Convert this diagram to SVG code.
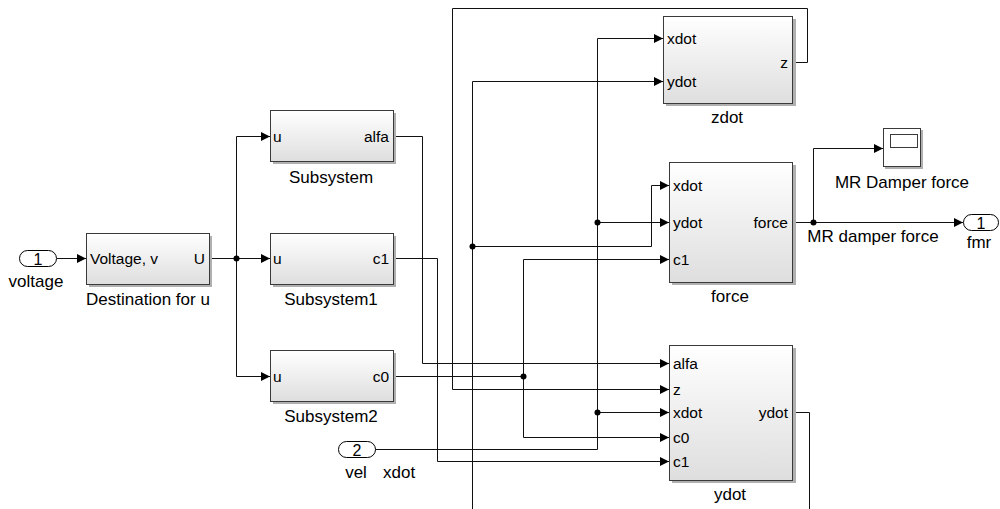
<svg xmlns="http://www.w3.org/2000/svg" width="1000" height="509" viewBox="0 0 1000 509">
<defs>
<linearGradient id="bg" x1="0" y1="0" x2="0" y2="1">
<stop offset="0" stop-color="#ffffff"/>
<stop offset="1" stop-color="#dedede"/>
</linearGradient>
<marker id="arr" markerUnits="userSpaceOnUse" markerWidth="9" markerHeight="9" refX="9" refY="4.5" orient="auto">
<path d="M0,0 L9,4.5 L0,9 z" fill="#000"/>
</marker>
<style>
.blk{fill:url(#bg);stroke:#3a3a3a;stroke-width:1}
.shd{fill:#b0b0b0;stroke:none}
.port{fill:#fff;stroke:#000;stroke-width:1}
.w{fill:none;stroke:#111;stroke-width:1}
.a{marker-end:url(#arr)}
.dot{fill:#000}
.pl{font-family:"Liberation Sans",Arial,sans-serif;font-size:15.5px;fill:#000}
.nm{font-family:"Liberation Sans",Arial,sans-serif;font-size:17px;fill:#000}
.num{font-family:"Liberation Sans",Arial,sans-serif;font-size:16px;fill:#000}
.r{text-anchor:end}
.m{text-anchor:middle}
</style>
</defs>
<rect width="1000" height="509" fill="#fff"/>

<g id="connectors">
<path class="w a" d="M57,258.5 H86"/>
<path class="w a" d="M209,258.5 H270"/>
<path class="w a" d="M236.5,258.5 V136.5 H270"/>
<path class="w a" d="M236.5,258.5 V376.5 H270"/>
<path class="w a" d="M394,136.5 H422.5 V363.5 H669"/>
<path class="w a" d="M394,258.5 H437.5 V461.5 H669"/>
<path class="w a" d="M394,376.5 H523.5 V259.5 H669"/>
<path class="w a" d="M523.5,376.5 V437.5 H669"/>
<path class="w a" d="M375,449.5 H597.5 V38.5 H663"/>
<path class="w a" d="M597.5,222.5 H669"/>
<path class="w a" d="M597.5,412.5 H669"/>
<path class="w" d="M793,412.5 H809.5 V509"/>
<path class="w a" d="M472.5,509 V81.5 H663"/>
<path class="w a" d="M472.5,246.5 H651.5 V185.5 H669"/>
<path class="w a" d="M793,62.5 H807.5 V8.5 H452.5 V389.5 H669"/>
<path class="w a" d="M793,222.5 H963"/>
<path class="w a" d="M813.5,222.5 V148.5 H883"/>
<circle class="dot" cx="236.5" cy="258.5" r="3"/>
<circle class="dot" cx="523.5" cy="376.5" r="3"/>
<circle class="dot" cx="597.5" cy="222.5" r="3"/>
<circle class="dot" cx="597.5" cy="412.5" r="3"/>
<circle class="dot" cx="472.5" cy="246.5" r="3"/>
<circle class="dot" cx="813.5" cy="222.5" r="3"/>
<text class="nm m" x="873" y="242">MR damper force</text>
<text class="nm" x="383" y="478">xdot</text>
</g>

<g id="in1">
<rect class="port" x="19.5" y="250.5" width="37" height="16" rx="8"/>
<text class="num m" x="38" y="264.5">1</text>
<text class="nm m" x="36" y="287">voltage</text>
</g>

<g id="dest">
<rect class="shd" x="89" y="236" width="123" height="51"/>
<rect class="blk" x="86.5" y="233.5" width="123" height="51"/>
<text class="pl" x="90" y="263.5">Voltage, v</text>
<text class="pl r" x="205" y="263.5">U</text>
<text class="nm m" x="148" y="305">Destination for u</text>
</g>

<g id="sub">
<rect class="shd" x="273" y="113" width="123" height="51"/>
<rect class="blk" x="270.5" y="110.5" width="123" height="51"/>
<text class="pl" x="273" y="141.5">u</text>
<text class="pl r" x="389" y="141.5">alfa</text>
<text class="nm m" x="331" y="183">Subsystem</text>
</g>

<g id="sub1">
<rect class="shd" x="273" y="236" width="123" height="51"/>
<rect class="blk" x="270.5" y="233.5" width="123" height="51"/>
<text class="pl" x="273" y="264">u</text>
<text class="pl r" x="389" y="264">c1</text>
<text class="nm m" x="331" y="305">Subsystem1</text>
</g>

<g id="sub2">
<rect class="shd" x="273" y="353" width="123" height="51"/>
<rect class="blk" x="270.5" y="350.5" width="123" height="51"/>
<text class="pl" x="273" y="382">u</text>
<text class="pl r" x="389" y="382">c0</text>
<text class="nm m" x="331" y="422">Subsystem2</text>
</g>

<g id="in2">
<rect class="port" x="338.5" y="441.5" width="37" height="16" rx="8"/>
<text class="num m" x="357" y="455.5">2</text>
<text class="nm m" x="356" y="478">vel</text>
</g>

<g id="zdot">
<rect class="shd" x="666" y="19" width="130" height="87"/>
<rect class="blk" x="663.5" y="16.5" width="129" height="87"/>
<text class="pl" x="667" y="43.5">xdot</text>
<text class="pl" x="667" y="86.5">ydot</text>
<text class="pl r" x="788" y="67.5">z</text>
<text class="nm m" x="727" y="123">zdot</text>
</g>

<g id="force">
<rect class="shd" x="672" y="165" width="124" height="120"/>
<rect class="blk" x="669.5" y="162.5" width="123" height="120"/>
<text class="pl" x="673" y="190.5">xdot</text>
<text class="pl" x="673" y="227.5">ydot</text>
<text class="pl" x="673" y="264.5">c1</text>
<text class="pl r" x="788" y="227.5">force</text>
<text class="nm m" x="730" y="302">force</text>
</g>

<g id="ydot">
<rect class="shd" x="672" y="348" width="124" height="135"/>
<rect class="blk" x="669.5" y="345.5" width="123" height="135"/>
<text class="pl" x="673" y="368.5">alfa</text>
<text class="pl" x="673" y="394.5">z</text>
<text class="pl" x="673" y="417.5">xdot</text>
<text class="pl" x="673" y="442.5">c0</text>
<text class="pl" x="673" y="466.5">c1</text>
<text class="pl r" x="788" y="417.5">ydot</text>
<text class="nm m" x="730" y="500">ydot</text>
</g>

<g id="scope">
<rect class="shd" x="885" y="130" width="38" height="39"/>
<rect x="883.5" y="128.5" width="37" height="38" fill="#fff" stroke="#3a3a3a"/>
<rect x="890.5" y="134.5" width="27" height="13" fill="#fff" stroke="#3a3a3a"/>
<text class="nm m" x="902" y="188">MR Damper force</text>
</g>

<g id="out1">
<rect class="port" x="963.5" y="214.5" width="35" height="16" rx="8"/>
<text class="num m" x="981" y="228.5">1</text>
<text class="nm m" x="979" y="248">fmr</text>
</g>
</svg>
